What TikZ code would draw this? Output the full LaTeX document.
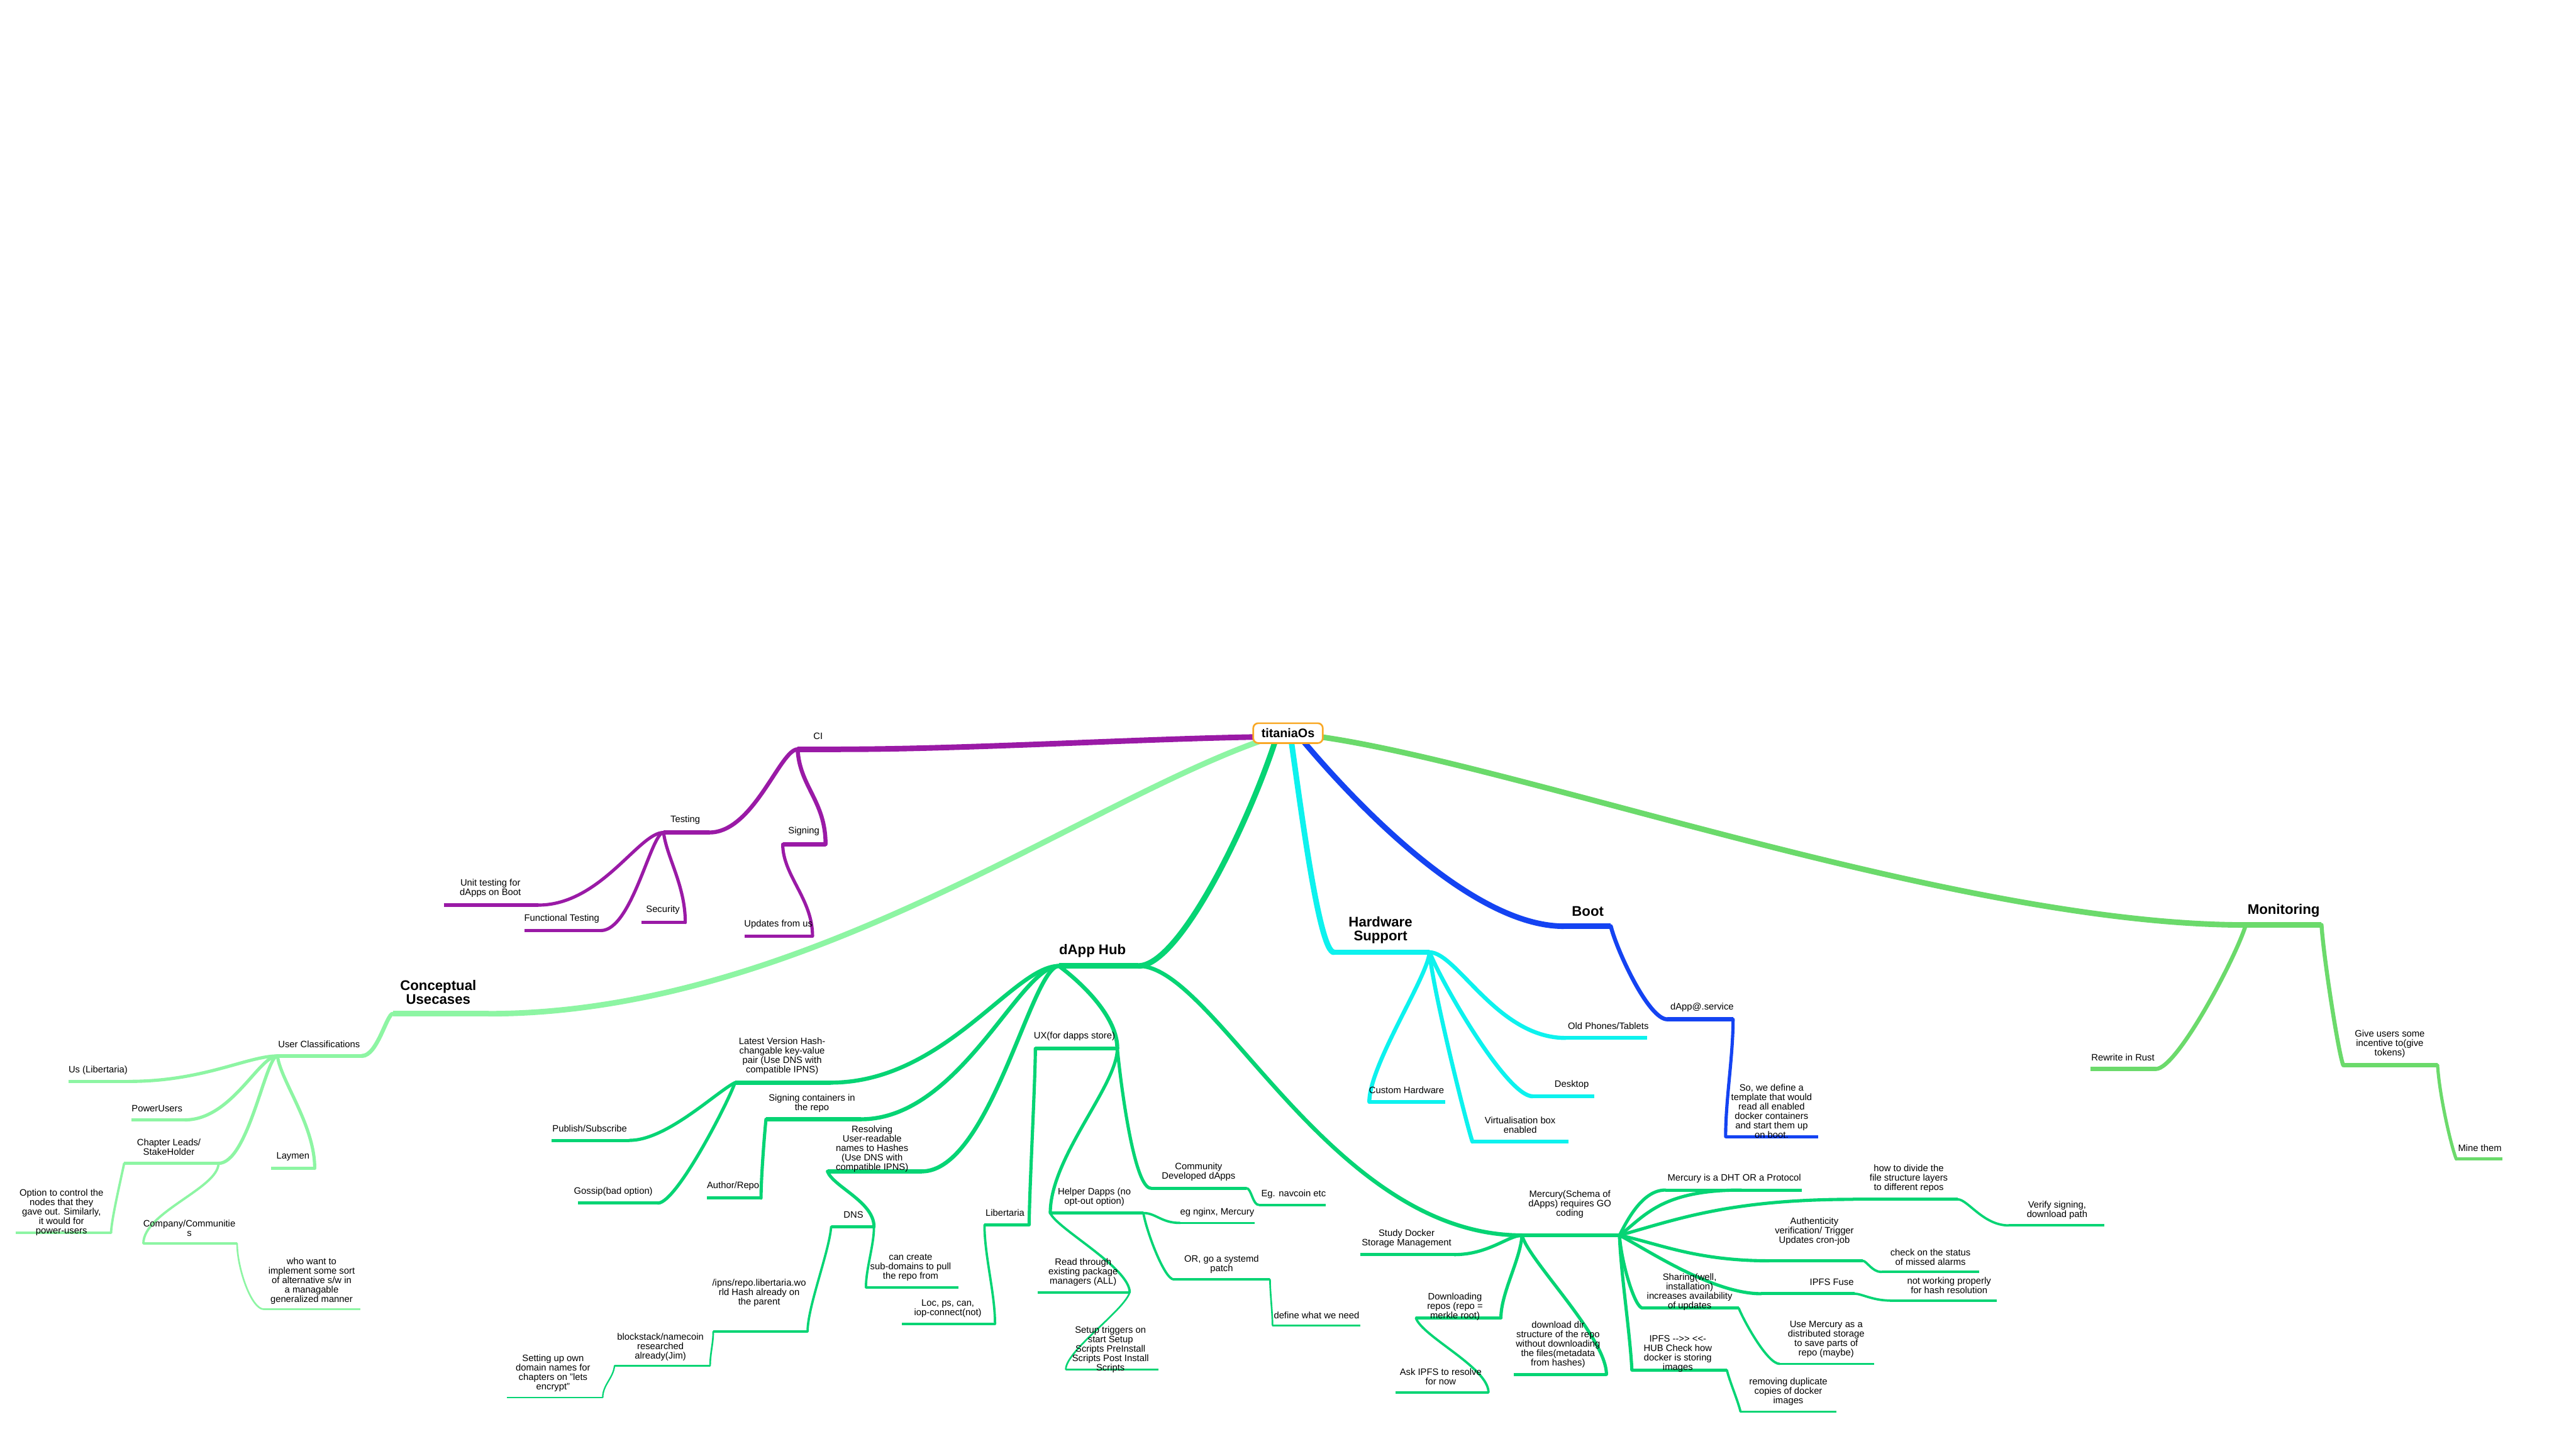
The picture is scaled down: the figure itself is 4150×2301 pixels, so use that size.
\documentclass[tikz,border=0pt]{standalone}
\usepackage{fontspec}
\setmainfont{Liberation Sans}
\pgfdeclarelayer{back}
\pgfdeclarelayer{bg}
\pgfsetlayers{back,bg,main}
\definecolor{colP}{HTML}{9A1AA6}
\definecolor{colG}{HTML}{8DF5A3}
\definecolor{colD}{HTML}{06D474}
\definecolor{colH}{HTML}{0DF2EE}
\definecolor{colB}{HTML}{1443F2}
\definecolor{colM}{HTML}{6BDA6B}
\definecolor{colO}{HTML}{F9A825}
\tikzset{
  txt/.style={font=\fontsize{15}{15.2}\selectfont, align=center, inner sep=0pt},
  ttl/.style={font=\fontsize{22.5}{22}\selectfont\bfseries, align=center, inner sep=0pt},
  rootbox/.style={draw=colO, line width=2.7pt, rounded corners=8pt, fill=white,
    minimum width=112pt, minimum height=32pt, inner sep=0pt,
    font=\fontsize{20}{20}\selectfont\bfseries},
  cP/.style={draw=colP}, cG/.style={draw=colG}, cD/.style={draw=colD},
  cH/.style={draw=colH}, cB/.style={draw=colB}, cM/.style={draw=colM},
  wA/.style={line width=9pt}, wB/.style={line width=6.5pt}, wC/.style={line width=5.2pt},
  wD/.style={line width=3.8pt}, wE/.style={line width=2.7pt}, wF/.style={line width=2.3pt}
}
% topic: name, line style, x1, x2, y, label x, label y, node style, text
\newcommand\tp[9]{%
  \coordinate (#1-l) at (#3,#5);
  \coordinate (#1-r) at (#4,#5);
  \begin{pgfonlayer}{bg}\draw[#2,line cap=butt] (#1-l) -- (#1-r);\end{pgfonlayer}
  \node[#8] (#1) at (#6,#7) {#9};}
% connector: style, from, to, first control (rel. to start), second control (rel. to end)
\newcommand\cn[5]{\begin{pgfonlayer}{bg}\draw[#1,line cap=round] (#2) .. controls +(#4) and +(#5) .. (#3);\end{pgfonlayer}}
\begin{document}
\begin{tikzpicture}[x=1pt,y=-1pt]
\useasboundingbox (0,0) rectangle (4150,2301);
\begin{pgfonlayer}{back}\fill[white] (0,0) rectangle (4150,2301);\end{pgfonlayer}

% root connector starts
\coordinate (r-ci) at (2035,1187);
\coordinate (r-cu) at (2035,1192);
\coordinate (r-dh) at (2055,1192);
\coordinate (r-hw) at (2080,1192);
\coordinate (r-bt) at (2098,1192);
\coordinate (r-mo) at (2120,1186);

% ---------- CI ----------
\tp{ci}{cP,wA}{1285}{1355}{1207}{1318}{1186}{txt}{CI}
\tp{testing}{cP,wB}{1069}{1143}{1341}{1104}{1321}{txt}{Testing}
\tp{signing}{cP,wB}{1261}{1330}{1360}{1295}{1339}{txt}{Signing}
\tp{unit}{cP,wC}{715}{867}{1458}{790}{1431}{txt}{Unit testing for\\dApps on Boot}
\tp{func}{cP,wC}{845}{968}{1499}{905}{1480}{txt}{Functional Testing}
\tp{sec}{cP,wC}{1033}{1104}{1486}{1068}{1466}{txt}{Security}
\tp{upd}{cP,wC}{1200}{1309}{1508}{1254}{1489}{txt}{Updates from us}
\cn{cP,wA}{r-ci}{ci-r}{-200,3}{200,0}
\cn{cP,wB}{ci-l}{testing-r}{-28,0}{71,0}
\cn{cP,wB}{ci-l}{signing-r}{3,60}{0,-70}
\cn{cP,wC}{testing-l}{unit-r}{-40,0}{101,0}
\cn{cP,wC}{testing-l}{func-r}{-20,0}{50,0}
\cn{cP,wC}{testing-l}{sec-r}{5,40}{0,-60}
\cn{cP,wC}{signing-l}{upd-r}{0,50}{0,-60}

% ---------- Conceptual Usecases ----------
\tp{concept}{cG,wA}{633}{787}{1633}{706}{1598}{ttl}{Conceptual\\Usecases}
\tp{userc}{cG,wB}{447}{583}{1701}{514}{1682}{txt}{User Classifications}
\tp{us}{cG,wC}{110}{208}{1742}{158}{1724}{txt}{Us (Libertaria)}
\tp{power}{cG,wC}{212}{298}{1804}{253}{1786}{txt}{PowerUsers}
\tp{chapter}{cG,wC}{200}{352}{1874}{272}{1848}{txt}{Chapter Leads/\\StakeHolder}
\tp{laymen}{cG,wC}{437}{507}{1882}{472}{1863}{txt}{Laymen}
\tp{option}{cG,wD}{25}{179}{1986}{99}{1953}{txt}{Option to control the\\nodes that they\\gave out. Similarly,\\it would for\\power-users}
\tp{company}{cG,wD}{231}{382}{2003}{305}{1978}{txt}{Company/Communitie\\s}
\tp{who}{cG,wE}{425}{581}{2109}{502}{2063}{txt}{who want to\\implement some sort\\of alternative s/w in\\a managable\\generalized manner}
\cn{cG,wA}{r-cu}{concept-r}{-300,105}{500,0}
\cn{cG,wB}{concept-l}{userc-r}{-10,0}{25,0}
\cn{cG,wC}{userc-l}{us-r}{-48,0}{120,0}
\cn{cG,wC}{userc-l}{power-r}{-30,0}{75,0}
\cn{cG,wC}{userc-l}{chapter-r}{-19,0}{48,0}
\cn{cG,wC}{userc-l}{laymen-r}{5,40}{0,-70}
\cn{cG,wD}{chapter-l}{option-r}{-4,20}{0,-20}
\cn{cG,wD}{chapter-r}{company-l}{0,40}{0,-50}
\cn{cG,wE}{company-r}{who-l}{0,40}{-20,0}

% ---------- dApp Hub ----------
\tp{dapp}{cD,wA}{1706}{1834}{1556}{1760}{1532}{ttl}{dApp Hub}
\tp{latest}{cD,wB}{1184}{1338}{1744}{1260}{1701}{txt}{Latest Version Hash-\\changable key-value\\pair (Use DNS with\\compatible IPNS)}
\tp{pubsub}{cD,wC}{889}{1014}{1837}{950}{1818}{txt}{Publish/Subscribe}
\tp{gossip}{cD,wC}{931}{1060}{1938}{988}{1920}{txt}{Gossip(bad option)}
\tp{signc}{cD,wB}{1234}{1387}{1803}{1308}{1777}{txt}{Signing containers in\\the repo}
\tp{author}{cD,wC}{1139}{1226}{1930}{1181}{1911}{txt}{Author/Repo}
\tp{resolv}{cD,wB}{1333}{1485}{1887}{1405}{1851}{txt}{Resolving\\User-readable\\names to Hashes\\(Use DNS with\\compatible IPNS)}
\tp{dns}{cD,wC}{1339}{1408}{1976}{1375}{1957}{txt}{DNS}
\tp{subdom}{cD,wD}{1395}{1544}{2074}{1467}{2042}{txt}{can create\\sub-domains to pull\\the repo from}
\tp{ipns}{cD,wD}{1149}{1301}{2145}{1223}{2083}{txt}{/ipns/repo.libertaria.wo\\rld Hash already on\\the parent}
\tp{block}{cD,wE}{990}{1144}{2200}{1064}{2170}{txt}{blockstack/namecoin\\researched\\already(Jim)}
\tp{setting}{cD,wF}{817}{971}{2251}{891}{2212}{txt}{Setting up own\\domain names for\\chapters on "lets\\encrypt"}
\tp{ux}{cD,wB}{1668}{1800}{1689}{1731}{1669}{txt}{UX(for dapps store)}
\tp{libert}{cD,wC}{1586}{1658}{1973}{1619}{1954}{txt}{Libertaria}
\tp{loc}{cD,wD}{1453}{1603}{2133}{1527}{2108}{txt}{Loc, ps, can,\\iop-connect(not)}
\tp{community}{cD,wC}{1854}{2008}{1914}{1931}{1888}{txt}{Community\\Developed dApps}
\tp{navcoin}{cD,wD}{2028}{2136}{1941}{2084}{1924}{txt}{Eg. navcoin etc}
\tp{helper}{cD,wC}{1692}{1842}{1954}{1763}{1928}{txt}{Helper Dapps (no\\opt-out option)}
\tp{nginx}{cD,wD}{1901}{2021}{1970}{1961}{1953}{txt}{eg nginx, Mercury}
\tp{orgo}{cD,wD}{1891}{2046}{2061}{1968}{2037}{txt}{OR, go a systemd\\patch}
\tp{define}{cD,wE}{2050}{2191}{2135}{2121}{2119}{txt}{define what we need}
\tp{readthr}{cD,wD}{1672}{1820}{2082}{1745}{2049}{txt}{Read through\\existing package\\managers (ALL)}
\tp{setup}{cD,wE}{1717}{1866}{2206}{1789}{2174}{txt}{Setup triggers on\\start Setup\\Scripts PreInstall\\Scripts Post Install\\Scripts}
\tp{mercury}{cD,wB}{2452}{2609}{1990}{2529}{1940}{txt}{Mercury(Schema of\\dApps) requires GO\\coding}
\tp{study}{cD,wC}{2191}{2343}{2021}{2266}{1995}{txt}{Study Docker\\Storage Management}
\tp{download}{cD,wC}{2281}{2418}{2123}{2344}{2105}{txt}{Downloading\\repos (repo =\\merkle root)}
\tp{askipfs}{cD,wD}{2248}{2398}{2243}{2321}{2218}{txt}{Ask IPFS to resolve\\for now}
\tp{dldir}{cD,wC}{2439}{2588}{2214}{2510}{2166}{txt}{download dir\\structure of the repo\\without downloading\\the files(metadata\\from hashes)}
\tp{dht}{cD,wC}{2683}{2903}{1917}{2794}{1898}{txt}{Mercury is a DHT OR a Protocol}
\coordinate (dht-m) at (2805,1917);
\tp{divide}{cD,wC}{2985}{3154}{1932}{3075}{1898}{txt}{how to divide the\\file structure layers\\to different repos}
\tp{verify}{cD,wD}{3236}{3390}{1974}{3314}{1950}{txt}{Verify signing,\\download path}
\tp{auth}{cD,wC}{2850}{3001}{2031}{2923}{1983}{txt}{Authenticity\\verification/ Trigger\\Updates cron-job}
\tp{check}{cD,wD}{3031}{3188}{2049}{3110}{2025}{txt}{check on the status\\of missed alarms}
\tp{ipfsfuse}{cD,wC}{2837}{2988}{2084}{2951}{2065}{txt}{IPFS Fuse}
\tp{notwork}{cD,wD}{3045}{3217}{2095}{3140}{2071}{txt}{not working properly\\for hash resolution}
\tp{sharing}{cD,wC}{2646}{2801}{2107}{2722}{2081}{txt}{Sharing(well,\\installation)\\increases availability\\of updates}
\tp{usemerc}{cD,wD}{2867}{3019}{2197}{2942}{2157}{txt}{Use Mercury as a\\distributed storage\\to save parts of\\repo (maybe)}
\tp{ipfshub}{cD,wC}{2629}{2782}{2207}{2703}{2181}{txt}{IPFS -{}->{}> <{}<-\\HUB Check how\\docker is storing\\images}
\tp{removing}{cD,wD}{2804}{2958}{2274}{2881}{2242}{txt}{removing duplicate\\copies of docker\\images}

\cn{cD,wA}{r-dh}{dapp-r}{-45,138}{66,0}
\cn{cD,wB}{dapp-l}{latest-r}{-74,0}{184,0}
\cn{cD,wC}{latest-l}{pubsub-r}{-30,15}{60,0}
\cn{cD,wC}{latest-l}{gossip-r}{-10,30}{30,0}
\cn{cD,wB}{dapp-l}{signc-r}{-64,0}{160,0}
\cn{cD,wC}{signc-l}{author-r}{-3,30}{0,-30}
\cn{cD,wB}{dapp-l}{resolv-r}{-44,0}{110,0}
\cn{cD,wC}{resolv-l}{dns-r}{10,25}{0,-40}
\cn{cD,wD}{dns-r}{subdom-l}{0,30}{0,-30}
\cn{cD,wD}{dns-l}{ipns-r}{-3,40}{0,-40}
\cn{cD,wE}{ipns-l}{block-r}{0,20}{0,-20}
\cn{cD,wF}{block-l}{setting-r}{-2,20}{0,-20}
\cn{cD,wB}{dapp-l}{ux-r}{40,30}{0,-50}
\cn{cD,wC}{ux-l}{libert-r}{0,50}{0,-50}
\cn{cD,wD}{libert-l}{loc-r}{0,50}{0,-50}
\cn{cD,wC}{ux-r}{community-l}{8,80}{-25,0}
\cn{cD,wD}{community-r}{navcoin-l}{8,0}{-10,0}
\cn{cD,wC}{ux-r}{helper-l}{0,60}{0,-90}
\cn{cD,wD}{helper-r}{nginx-l}{20,0}{-30,0}
\cn{cD,wD}{helper-r}{orgo-l}{5,30}{-15,0}
\cn{cD,wE}{orgo-r}{define-l}{0,20}{0,-20}
\cn{cD,wD}{helper-l}{readthr-r}{10,25}{0,-40}
\cn{cD,wE}{readthr-r}{setup-l}{-10,30}{0,-30}
\cn{cD,wB}{dapp-r}{mercury-l}{124,0}{-309,0}
\cn{cD,wC}{mercury-l}{study-r}{-22,0}{55,0}
\cn{cD,wC}{mercury-l}{download-r}{-3,40}{0,-40}
\cn{cD,wD}{download-l}{askipfs-r}{10,30}{0,-40}
\cn{cD,wC}{mercury-l}{dldir-r}{10,40}{0,-60}
\cn{cD,wC}{mercury-r}{dht-l}{15,-30}{-35,0}
\cn{cD,wC}{mercury-r}{dht-m}{40,-30}{-130,0}
\cn{cD,wC}{mercury-r}{divide-l}{90,-25}{-200,0}
\cn{cD,wD}{divide-r}{verify-l}{16,0}{-41,0}
\cn{cD,wC}{mercury-r}{auth-l}{60,12}{-120,0}
\cn{cD,wD}{auth-r}{check-l}{6,0}{-15,0}
\cn{cD,wC}{mercury-r}{ipfsfuse-l}{40,20}{-80,0}
\cn{cD,wD}{ipfsfuse-r}{notwork-l}{11,0}{-28,0}
\cn{cD,wC}{mercury-r}{sharing-l}{3,45}{-12,0}
\cn{cD,wD}{sharing-r}{usemerc-l}{8,20}{-20,0}
\cn{cD,wC}{mercury-r}{ipfshub-l}{2,60}{-3,-60}
\cn{cD,wD}{ipfshub-r}{removing-l}{5,20}{-5,-20}

% ---------- Hardware Support ----------
\tp{hw}{cH,wA}{2149}{2303}{1534}{2224}{1498}{ttl}{Hardware\\Support}
\tp{oldph}{cH,wB}{2522}{2654}{1672}{2591}{1653}{txt}{Old Phones/Tablets}
\tp{desktop}{cH,wB}{2469}{2568}{1766}{2532}{1747}{txt}{Desktop}
\tp{virt}{cH,wB}{2372}{2527}{1839}{2449}{1812}{txt}{Virtualisation box\\enabled}
\tp{custom}{cH,wB}{2206}{2328}{1775}{2266}{1756}{txt}{Custom Hardware}
\cn{cH,wA}{r-hw}{hw-l}{15,104}{-24,0}
\cn{cH,wB}{hw-r}{oldph-l}{44,0}{-110,0}
\cn{cH,wB}{hw-r}{desktop-l}{25,60}{-40,0}
\cn{cH,wB}{hw-r}{virt-l}{5,60}{-10,-30}
\cn{cH,wB}{hw-r}{custom-l}{-3,40}{0,-60}

% ---------- Boot ----------
\tp{boot}{cB,wA}{2519}{2595}{1492}{2558}{1468}{ttl}{Boot}
\tp{dappsvc}{cB,wB}{2686}{2792}{1642}{2742}{1623}{txt}{dApp@.service}
\tp{sowe}{cB,wC}{2780}{2929}{1831}{2854}{1790}{txt}{So, we define a\\template that would\\read all enabled\\docker containers\\and start them up\\on boot.}
\cn{cB,wA}{r-bt}{boot-l}{82,98}{-149,0}
\cn{cB,wB}{boot-r}{dappsvc-l}{10,40}{-30,0}
\cn{cB,wC}{dappsvc-r}{sowe-l}{0,60}{0,-60}

% ---------- Monitoring ----------
\tp{mon}{cM,wA}{3618}{3740}{1490}{3679}{1467}{ttl}{Monitoring}
\tp{rust}{cM,wB}{3368}{3473}{1722}{3420}{1703}{txt}{Rewrite in Rust}
\tp{give}{cM,wB}{3775}{3927}{1716}{3850}{1682}{txt}{Give users some\\incentive to(give\\tokens)}
\tp{mine}{cM,wC}{3957}{4031}{1867}{3995}{1849}{txt}{Mine them}
\cn{cM,wA}{r-mo}{mon-l}{325,44}{-468,0}
\cn{cM,wB}{mon-l}{rust-r}{-15,50}{35,0}
\cn{cM,wB}{mon-r}{give-l}{3,50}{-8,-20}
\cn{cM,wC}{give-r}{mine-l}{3,50}{-8,-20}

% ---------- root ----------
\node[rootbox] (root) at (2075,1181) {titaniaOs};
\end{tikzpicture}
\end{document}
